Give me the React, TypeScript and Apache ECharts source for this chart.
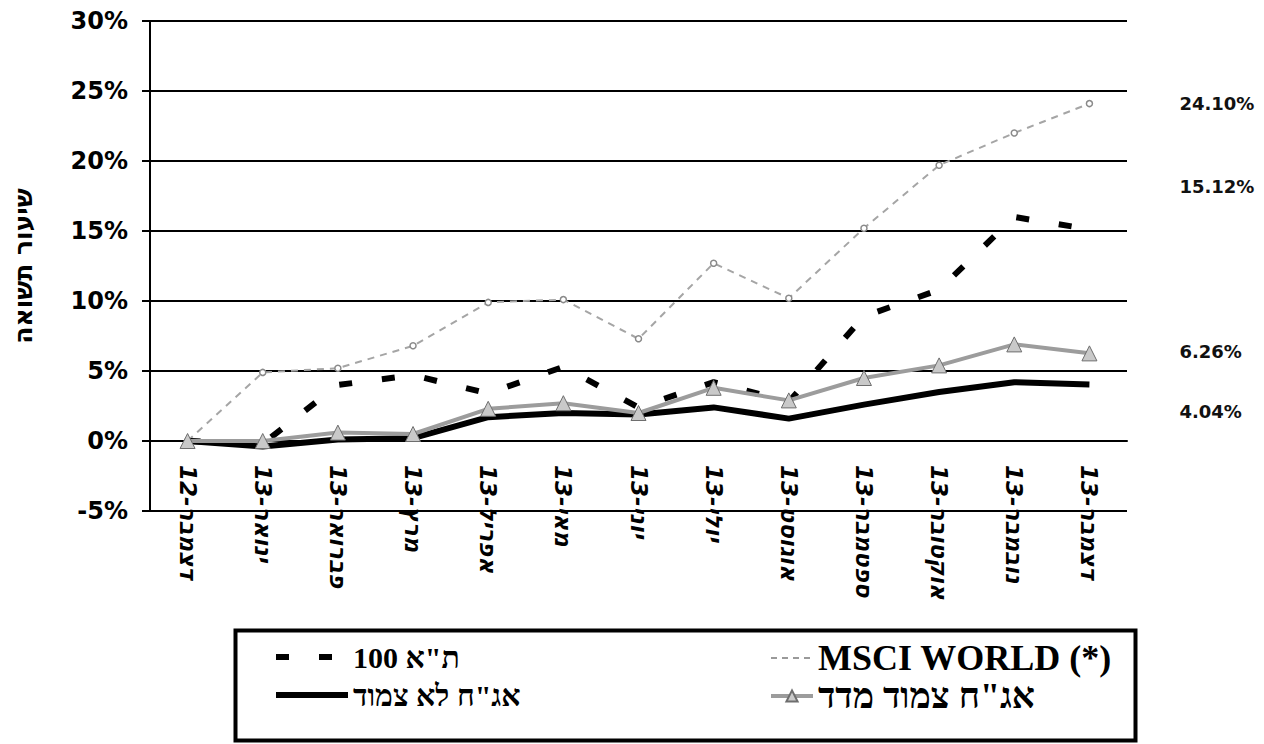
import React, { useEffect, useRef } from "react";
import * as echarts from "echarts";

const categories = [
  "דצמבר-12",
  "ינואר-13",
  "פברואר-13",
  "מרץ-13",
  "אפריל-13",
  "מאי-13",
  "יוני-13",
  "יולי-13",
  "אוגוסט-13",
  "ספטמבר-13",
  "אוקטובר-13",
  "נובמבר-13",
  "דצמבר-13",
];

const ta100 = [0, -0.2, 4.0, 4.7, 3.4, 5.3, 2.4, 4.2, 2.8, 8.9, 10.8, 16.0, 15.12];
const msciWorld = [0, 4.9, 5.2, 6.8, 9.9, 10.1, 7.3, 12.7, 10.2, 15.2, 19.7, 22.0, 24.1];
const linkedBonds = [0, 0, 0.6, 0.5, 2.3, 2.7, 2.0, 3.8, 2.9, 4.5, 5.4, 6.9, 6.26];
const nonLinkedBonds = [0, -0.4, 0.1, 0.2, 1.7, 2.0, 1.9, 2.4, 1.6, 2.6, 3.5, 4.2, 4.04];

const seriesNames = {
  ta100: 'ת"א 100',
  msci: "MSCI WORLD (*)",
  nonLinked: 'אג"ח לא צמוד',
  linked: 'אג"ח צמוד מדד',
};

const yTicks = { min: -5, max: 30, interval: 5 };

const AXIS_FONT = "DejaVu Sans, Verdana, sans-serif";
const LEGEND_FONT = "Liberation Serif, Times New Roman, serif";

const GRID = { left: 150, right: 137, top: 21, bottom: 233 };
const PLOT_H = 744 - GRID.top - GRID.bottom;
// category axis crosses the value axis at 0
const xAxisOffset = -((0 - yTicks.min) / (yTicks.max - yTicks.min)) * PLOT_H;

const endLabelFmt = (p: any) => {
  const v = Array.isArray(p.value) ? p.value[p.value.length - 1] : p.value;
  return Number(v).toFixed(2) + "%";
};

const endLabelStyle = {
  show: true,
  formatter: endLabelFmt,
  fontFamily: AXIS_FONT,
  fontWeight: "bold",
  fontSize: 18,
  color: "#111",
  align: "left",
};

export default function App() {
  const ref = useRef<HTMLDivElement>(null);

  useEffect(() => {
    if (!ref.current) return;
    const chart = echarts.init(ref.current, undefined, { renderer: "svg" });
    const legendText = (size: number) => ({
      fontFamily: LEGEND_FONT,
      fontWeight: "bold",
      fontSize: size,
      color: "#000",
    });
    chart.setOption({
      animation: false,
      backgroundColor: "#ffffff",
      grid: { ...GRID, containLabel: false },
      xAxis: {
        type: "category",
        data: categories,
        boundaryGap: true,
        offset: xAxisOffset,
        axisLine: { onZero: false, lineStyle: { color: "#000", width: 2 } },
        axisTick: { show: false },
        axisLabel: {
          interval: 0,
          rotate: -90,
          margin: 24,
          color: "#000",
          fontFamily: AXIS_FONT,
          fontWeight: "bold",
          fontStyle: "italic",
          fontSize: 23,
        },
        splitLine: { show: false },
      },
      yAxis: {
        type: "value",
        min: yTicks.min,
        max: yTicks.max,
        interval: yTicks.interval,
        name: "שיעור תשואה",
        nameLocation: "middle",
        nameGap: 114,
        nameTextStyle: {
          fontFamily: AXIS_FONT,
          fontWeight: "bold",
          fontSize: 25,
          color: "#000",
        },
        axisLine: { show: true, lineStyle: { color: "#000", width: 2 } },
        axisTick: { show: true, length: 8, lineStyle: { color: "#000", width: 2 } },
        axisLabel: {
          formatter: "{value}%",
          color: "#000",
          fontFamily: AXIS_FONT,
          fontWeight: "bold",
          fontSize: 24,
          margin: 22,
        },
        splitLine: { show: true, lineStyle: { color: "#000", width: 2 } },
      },
      legend: [
        {
          left: 268,
          top: 637,
          orient: "vertical",
          itemGap: 8,
          itemWidth: 72,
          itemHeight: 14,
          data: [
            {
              name: seriesNames.ta100,
              itemStyle: { opacity: 0 },
              lineStyle: { width: 6, type: [13, 30], color: "#000" },
            },
            {
              name: seriesNames.nonLinked,
              itemStyle: { opacity: 0 },
              lineStyle: { width: 6, color: "#000" },
            },
          ],
          textStyle: legendText(30),
        },
        {
          left: 764,
          top: 635,
          orient: "vertical",
          itemGap: 2,
          itemWidth: 42,
          itemHeight: 14,
          data: [
            {
              name: seriesNames.msci,
              itemStyle: { opacity: 0 },
              lineStyle: { width: 2, type: [6, 5], color: "#9a9a9a" },
            },
            { name: seriesNames.linked, lineStyle: { width: 4, color: "#9c9c9c" } },
          ],
          textStyle: legendText(36),
        },
      ],
      graphic: [
        {
          type: "rect",
          left: 233,
          top: 628,
          shape: { width: 900, height: 110 },
          style: { fill: "none", stroke: "#000", lineWidth: 4 },
          z: 100,
        },
      ],
      series: [
        {
          name: seriesNames.msci,
          type: "line",
          data: msciWorld,
          symbol: "circle",
          symbolSize: 6,
          showSymbol: true,
          lineStyle: { color: "#a5a5a5", width: 2, type: [7, 6] },
          itemStyle: { color: "#ffffff", borderColor: "#8a8a8a", borderWidth: 1.5 },
          endLabel: { ...endLabelStyle, offset: [82, 0] },
          z: 3,
        },
        {
          name: seriesNames.ta100,
          type: "line",
          data: ta100,
          symbol: "none",
          lineStyle: { color: "#000", width: 6, type: [13, 30] },
          itemStyle: { color: "#000" },
          endLabel: { ...endLabelStyle, offset: [82, -43] },
          z: 4,
        },
        {
          name: seriesNames.nonLinked,
          type: "line",
          data: nonLinkedBonds,
          symbol: "none",
          lineStyle: { color: "#000", width: 6 },
          itemStyle: { color: "#000" },
          endLabel: { ...endLabelStyle, offset: [82, 27] },
          z: 5,
        },
        {
          name: seriesNames.linked,
          type: "line",
          data: linkedBonds,
          symbol: "triangle",
          symbolSize: 15,
          lineStyle: { color: "#9c9c9c", width: 4 },
          itemStyle: { color: "#c9c9c9", borderColor: "#6e6e6e", borderWidth: 1 },
          endLabel: { ...endLabelStyle, offset: [82, -2] },
          z: 6,
        },
      ],
    });
    return () => chart.dispose();
  }, []);

  return (
    <div
      ref={ref}
      style={{ position: "fixed", left: 0, top: 0, width: 1264, height: 744, background: "#fff" }}
    />
  );
}
